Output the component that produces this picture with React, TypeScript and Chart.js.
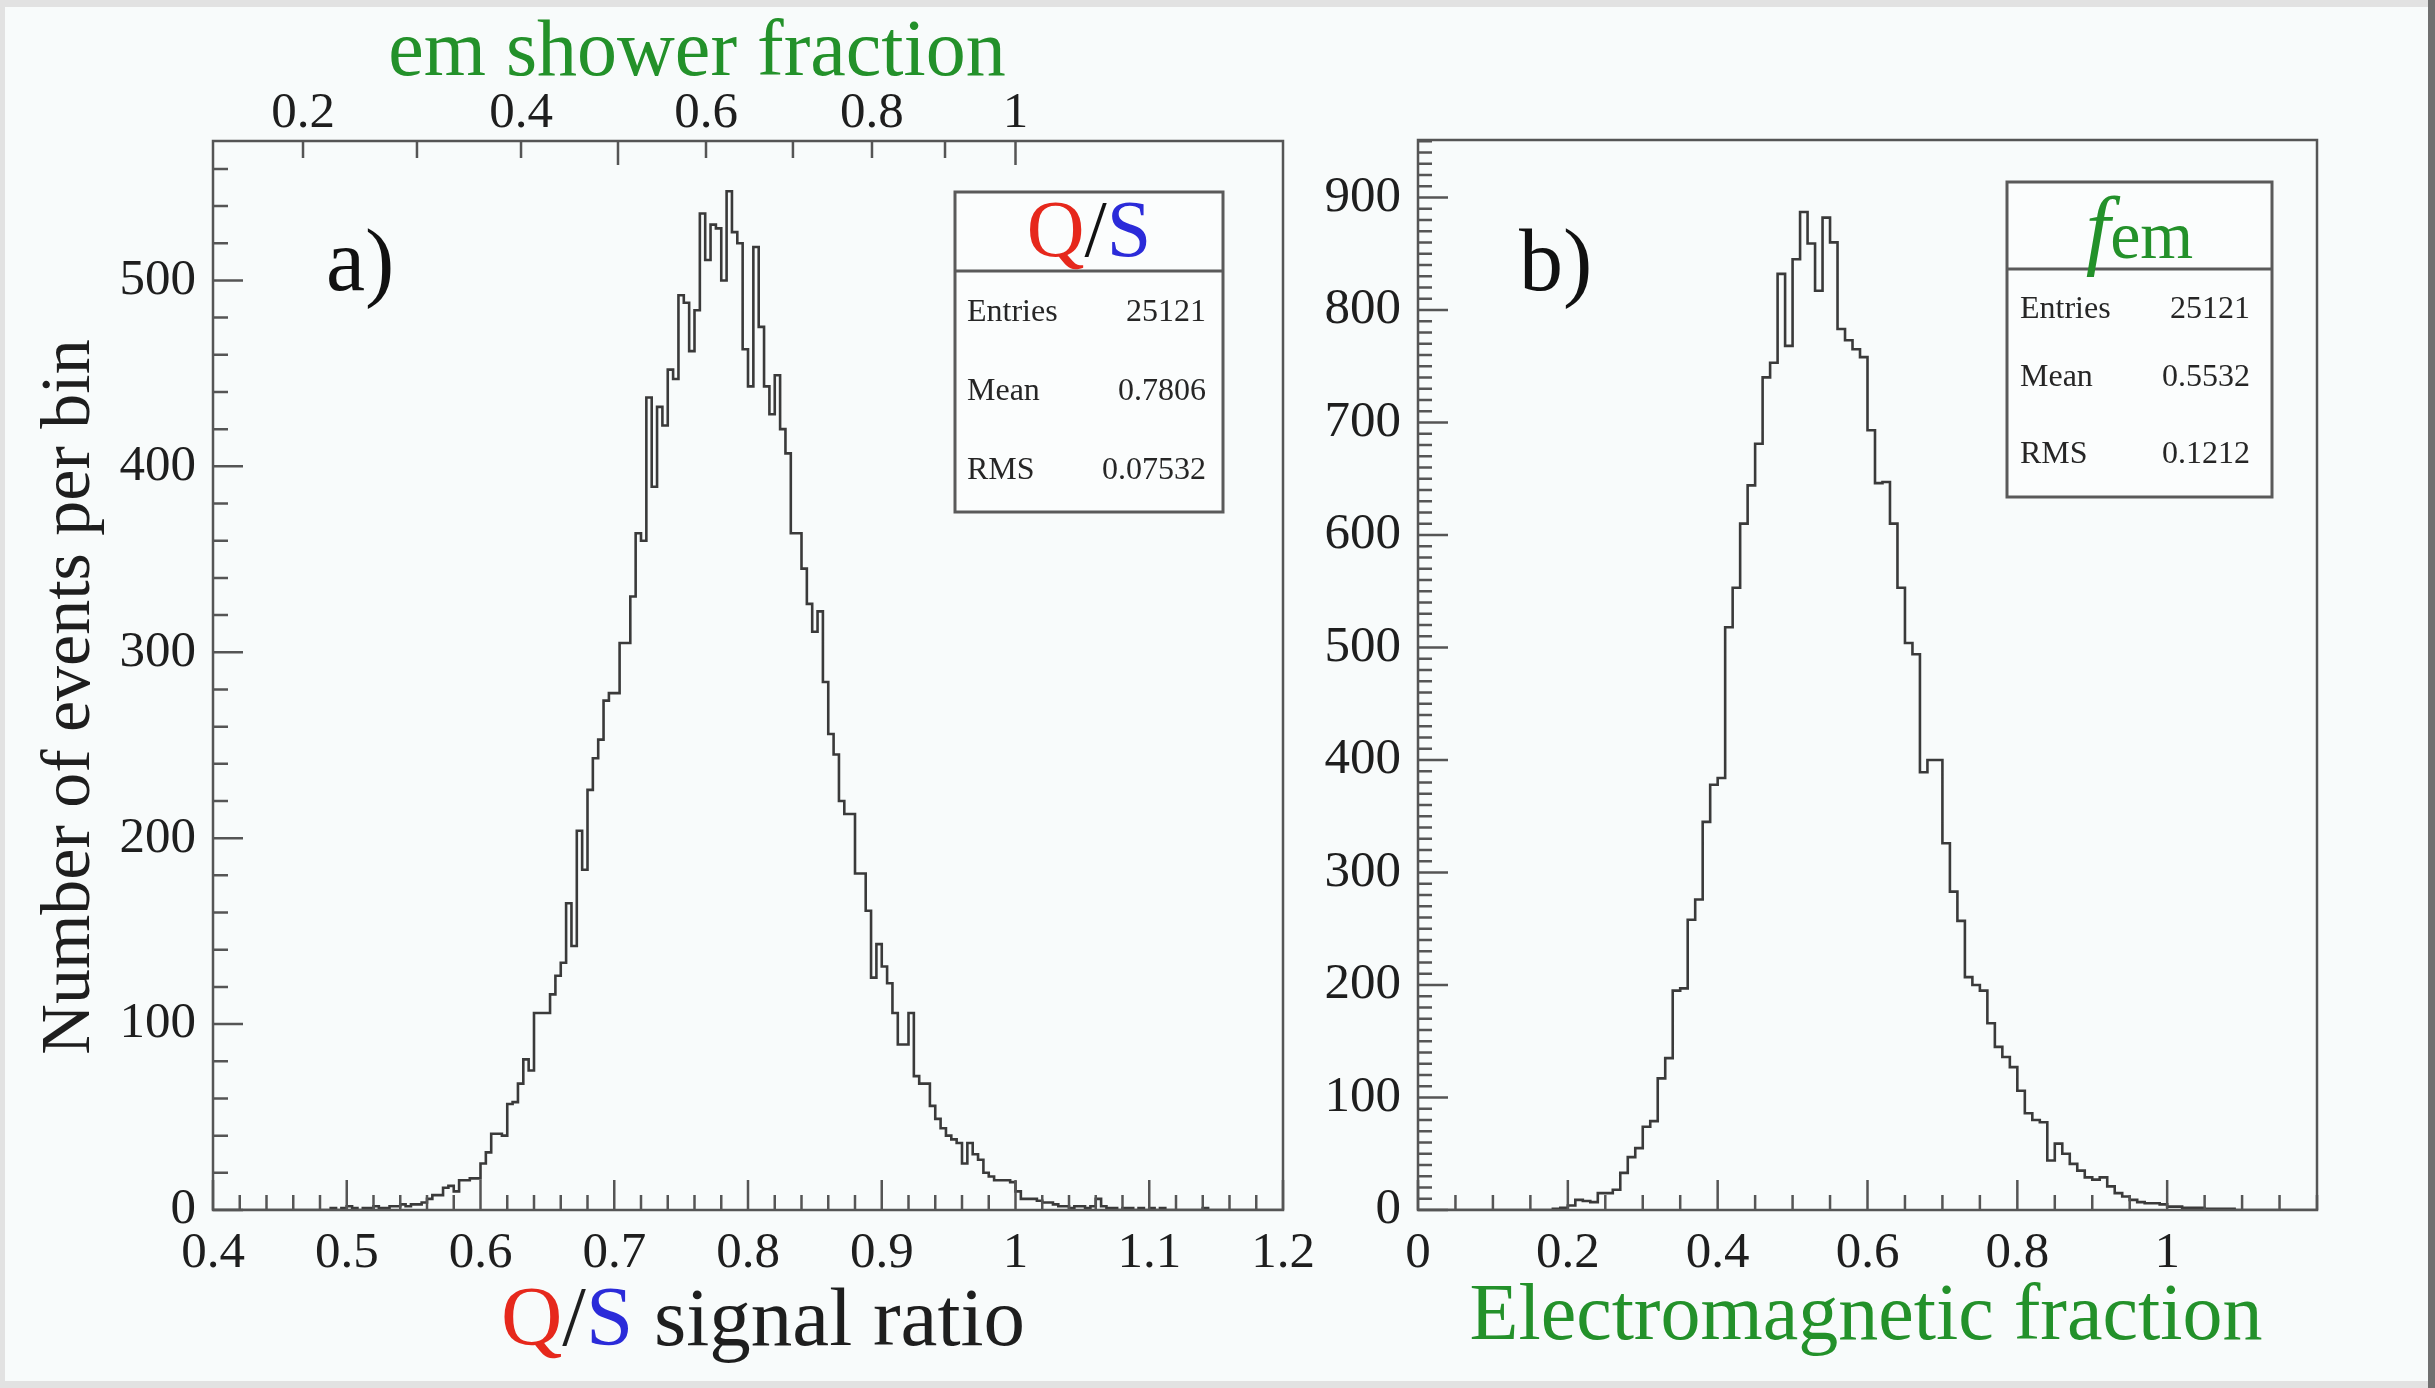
import { useEffect, useRef } from "react";
import { Chart, registerables } from "chart.js";

Chart.register(...registerables);

const PAGE_W = 2435;
const PAGE_H = 1388;
const SERIF = "'Liberation Serif', 'Times New Roman', serif";
const INK = "#1e1e1e";
const FRAME = "#555555";
const LINE = "#3a3a3a";
const GREEN = "#23912a";
const RED = "#e6281c";
const BLUE = "#2b2bd9";

// Panel a): Q/S signal ratio, 200 bins of width 0.004 on [0.4, 1.2]
const qsLow = 0.4;
const qsHigh = 1.2;
const qsBinWidth = 0.004;
const qsCounts = [
  0, 0, 0, 0, 0, 0, 0, 0, 0, 0,
  0, 0, 0, 0, 0, 0, 0, 0, 0, 0,
  0, 0, 1, 0, 1, 2, 1, 0, 1, 1,
  2, 1, 1, 2, 2, 3, 2, 3, 3, 4,
  6, 8, 8, 12, 13, 10, 16, 16, 17, 17,
  25, 31, 41, 41, 40, 57, 58, 68, 81, 75,
  106, 106, 106, 116, 126, 133, 165, 142, 204, 183,
  226, 243, 253, 274, 278, 278, 305, 305, 330, 364,
  360, 437, 389, 432, 422, 452, 447, 492, 488, 462,
  484, 536, 511, 530, 528, 500, 548, 526, 520, 463,
  443, 518, 475, 443, 428, 449, 420, 407, 364, 364,
  345, 326, 311, 322, 284, 256, 245, 220, 213, 213,
  181, 181, 161, 125, 143, 131, 122, 106, 89, 89,
  106, 72, 68, 68, 56, 49, 44, 40, 38, 36,
  25, 36, 30, 27, 20, 18, 16, 16, 16, 15,
  10, 6, 6, 6, 5, 4, 4, 3, 2, 2,
  1, 2, 2, 1, 2, 6, 2, 1, 1, 0,
  1, 1, 0, 1, 0, 1, 0, 1, 0, 0,
  0, 0, 0, 0, 0, 1, 0, 0, 0, 0,
  0, 0, 0, 0, 0, 0, 0, 0, 0, 0,
];

// Panel b): electromagnetic fraction, 120 bins of width 0.01 on [0, 1.2]
const femLow = 0;
const femHigh = 1.2;
const femBinWidth = 0.01;
const femCounts = [
  0, 0, 0, 0, 0, 0, 0, 0, 0, 0,
  0, 0, 0, 0, 0, 0, 0, 0, 1, 2,
  4, 9, 8, 7, 15, 15, 18, 33, 47, 55,
  74, 79, 117, 135, 195, 197, 258, 276, 345, 378,
  384, 518, 553, 610, 644, 681, 740, 753, 832, 768,
  845, 887, 859, 817, 882, 860, 783, 773, 765, 758,
  693, 646, 647, 610, 553, 504, 494, 389, 400, 400,
  326, 283, 257, 207, 200, 195, 166, 145, 136, 127,
  106, 86, 80, 78, 44, 59, 50, 41, 35, 29,
  27, 29, 21, 15, 12, 9, 7, 6, 6, 5,
  3, 3, 2, 2, 2, 1, 1, 1, 1, 0,
  0, 0, 0, 0, 0, 0, 0, 0, 0, 0,
];

// Axis tick labels
const qsXTicks = [0.4, 0.5, 0.6, 0.7, 0.8, 0.9, 1.0, 1.1, 1.2];
const qsYTicks = [0, 100, 200, 300, 400, 500];
const qsYMax = 575;
const femXTicks = [0, 0.2, 0.4, 0.6, 0.8, 1.0];
const femYTicks = [0, 100, 200, 300, 400, 500, 600, 700, 800, 900];
const femYMax = 951;

// em shower fraction scale along the top of panel a), placed at the matching Q/S values
const emFracLabels = ["0.2", "0.4", "0.6", "0.8", "1"];
const emFracLabelQS = [0.4673, 0.6303, 0.7686, 0.8927, 1.0];
const emFracMinorQS = [0.5525, 0.7028, 0.8336, 0.9473];

// Statistics boxes
const qsStats = [
  ["Entries", "25121"],
  ["Mean", "0.7806"],
  ["RMS", "0.07532"],
];
const femStats = [
  ["Entries", "25121"],
  ["Mean", "0.5532"],
  ["RMS", "0.1212"],
];

type Box = { x: number; y: number; w: number; h: number; divider: number; rows: number[]; textLeft: number; textRight: number };
type Run = { text: string; color: string; font: string };

function histPoints(low: number, width: number, counts: number[]) {
  const pts = counts.map((c, i) => ({ x: low + i * width, y: c }));
  pts.push({ x: low + counts.length * width, y: counts[counts.length - 1] });
  return pts;
}

function steps(from: number, to: number, step: number) {
  const out: number[] = [];
  for (let i = 0; from + i * step <= to + 1e-9; i++) out.push(+(from + i * step).toFixed(6));
  return out;
}

function fmt(v: number) {
  return String(+Number(v).toFixed(3));
}

function font(size: number, style = "") {
  return `${style} ${size}px ${SERIF}`.trim();
}

function drawRuns(ctx: CanvasRenderingContext2D, runs: Run[], cx: number, baseline: number) {
  ctx.textBaseline = "alphabetic";
  ctx.textAlign = "left";
  let total = 0;
  const widths = runs.map((r) => {
    ctx.font = r.font;
    const w = ctx.measureText(r.text).width;
    total += w;
    return w;
  });
  let x = cx - total / 2;
  runs.forEach((r, i) => {
    ctx.font = r.font;
    ctx.fillStyle = r.color;
    ctx.fillText(r.text, x, baseline);
    x += widths[i];
  });
}

function drawStats(ctx: CanvasRenderingContext2D, box: Box, title: Run[], titleBaseline: number, rows: string[][]) {
  ctx.save();
  ctx.fillStyle = "#fbfdfd";
  ctx.fillRect(box.x, box.y, box.w, box.h);
  ctx.strokeStyle = "#5a5a5a";
  ctx.lineWidth = 3;
  ctx.strokeRect(box.x, box.y, box.w, box.h);
  ctx.beginPath();
  ctx.moveTo(box.x, box.divider);
  ctx.lineTo(box.x + box.w, box.divider);
  ctx.stroke();
  drawRuns(ctx, title, box.x + box.w / 2, titleBaseline);
  ctx.font = font(32);
  ctx.fillStyle = "#262626";
  ctx.textBaseline = "middle";
  rows.forEach((r, i) => {
    ctx.textAlign = "left";
    ctx.fillText(r[0], box.textLeft, box.rows[i]);
    ctx.textAlign = "right";
    ctx.fillText(r[1], box.textRight, box.rows[i]);
  });
  ctx.restore();
}

type TickSet = { values: number[]; len: number };
type PanelSpec = {
  bottom: TickSet[];
  left: TickSet[];
  top?: TickSet[];
  decorate: (ctx: CanvasRenderingContext2D) => void;
};

function panelPlugin(id: string, spec: PanelSpec) {
  return {
    id,
    afterDatasetsDraw(chart: Chart) {
      const { ctx, chartArea: a } = chart;
      const sx = chart.scales.x;
      const sy = chart.scales.y;
      ctx.save();
      ctx.strokeStyle = FRAME;
      ctx.lineWidth = 2.5;
      ctx.beginPath();
      spec.bottom.forEach((t) =>
        t.values.forEach((v) => {
          const px = sx.getPixelForValue(v);
          ctx.moveTo(px, a.bottom);
          ctx.lineTo(px, a.bottom - t.len);
        })
      );
      spec.left.forEach((t) =>
        t.values.forEach((v) => {
          const py = sy.getPixelForValue(v);
          ctx.moveTo(a.left, py);
          ctx.lineTo(a.left + t.len, py);
        })
      );
      if (spec.top) {
        const st = chart.scales.xTop;
        spec.top.forEach((t) =>
          t.values.forEach((v) => {
            const px = st.getPixelForValue(v);
            ctx.moveTo(px, a.top);
            ctx.lineTo(px, a.top + t.len);
          })
        );
      }
      ctx.stroke();
      ctx.strokeRect(a.left, a.top, a.right - a.left, a.bottom - a.top);
      spec.decorate(ctx);
      ctx.restore();
    },
  };
}

const tickFont = { family: SERIF, size: 51 };

function fixedTicks(values: number[]) {
  return (s: any) => {
    s.ticks = values.map((value) => ({ value }));
  };
}

function leftConfig(): any {
  const plugin = panelPlugin("panelA", {
    bottom: [
      { values: steps(qsLow, qsHigh, 0.02), len: 15 },
      { values: qsXTicks, len: 30 },
    ],
    left: [
      { values: steps(0, qsYMax, 20), len: 15 },
      { values: qsYTicks, len: 30 },
    ],
    top: [
      { values: [...emFracLabelQS, ...emFracMinorQS], len: 17 },
      { values: [emFracMinorQS[1], emFracLabelQS[4]], len: 24 },
    ],
    decorate: (ctx) => {
      drawRuns(ctx, [{ text: "em shower fraction", color: GREEN, font: font(80) }], 697, 75);
      drawRuns(
        ctx,
        [
          { text: "Q", color: RED, font: font(85) },
          { text: "/", color: INK, font: font(85) },
          { text: "S", color: BLUE, font: font(85) },
          { text: " signal ratio", color: INK, font: font(83) },
        ],
        763,
        1345
      );
      ctx.save();
      ctx.translate(89, 697);
      ctx.rotate(-Math.PI / 2);
      ctx.font = font(70);
      ctx.fillStyle = INK;
      ctx.textAlign = "center";
      ctx.textBaseline = "alphabetic";
      ctx.fillText("Number of events per bin", 0, 0);
      ctx.restore();
      ctx.font = font(88);
      ctx.fillStyle = "#111111";
      ctx.textAlign = "left";
      ctx.textBaseline = "alphabetic";
      ctx.fillText("a)", 326, 290);
      drawStats(
        ctx,
        { x: 955, y: 192, w: 268, h: 320, divider: 271, rows: [313, 392, 471], textLeft: 967, textRight: 1206 },
        [
          { text: "Q", color: RED, font: font(80) },
          { text: "/", color: "#111111", font: font(80) },
          { text: "S", color: BLUE, font: font(80) },
        ],
        256,
        qsStats
      );
    },
  });

  return {
    type: "line",
    data: {
      datasets: [
        {
          data: histPoints(qsLow, qsBinWidth, qsCounts),
          stepped: true,
          borderColor: LINE,
          borderWidth: 2.6,
          pointRadius: 0,
          fill: false,
          xAxisID: "x",
          yAxisID: "y",
        },
      ],
    },
    options: {
      animation: false,
      responsive: false,
      devicePixelRatio: 1,
      events: [],
      layout: { padding: { left: 0, top: 0, right: PAGE_W - 1283, bottom: 0 } },
      plugins: { legend: { display: false }, tooltip: { enabled: false } },
      scales: {
        x: {
          type: "linear",
          position: "bottom",
          min: qsLow,
          max: qsHigh,
          afterBuildTicks: fixedTicks(qsXTicks),
          afterFit: (s: any) => {
            s.height = PAGE_H - 1210;
            s.paddingLeft = 0;
            s.paddingRight = 0;
          },
          grid: { display: false },
          border: { display: false },
          ticks: { autoSkip: false, maxRotation: 0, padding: 5, color: INK, font: tickFont, callback: (v: number) => fmt(v) },
        },
        xTop: {
          type: "linear",
          position: "top",
          min: qsLow,
          max: qsHigh,
          afterBuildTicks: fixedTicks(emFracLabelQS),
          afterFit: (s: any) => {
            s.height = 141;
            s.paddingLeft = 0;
            s.paddingRight = 0;
          },
          grid: { display: false },
          border: { display: false },
          ticks: { autoSkip: false, maxRotation: 0, padding: -11, color: INK, font: tickFont, callback: (_v: number, i: number) => emFracLabels[i] },
        },
        y: {
          type: "linear",
          position: "left",
          min: 0,
          max: qsYMax,
          afterBuildTicks: fixedTicks(qsYTicks),
          afterFit: (s: any) => {
            s.width = 213;
            s.paddingTop = 0;
            s.paddingBottom = 0;
          },
          grid: { display: false },
          border: { display: false },
          ticks: { padding: 9, color: INK, font: tickFont, callback: (v: number) => fmt(v) },
        },
      },
    },
    plugins: [plugin],
  };
}

function rightConfig(): any {
  const plugin = panelPlugin("panelB", {
    bottom: [
      { values: steps(femLow, femHigh, 0.05), len: 15 },
      { values: femXTicks, len: 30 },
    ],
    left: [
      { values: steps(0, femYMax, 10), len: 14 },
      { values: femYTicks, len: 30 },
    ],
    decorate: (ctx) => {
      drawRuns(ctx, [{ text: "Electromagnetic fraction", color: GREEN, font: font(80) }], 1866, 1339);
      ctx.font = font(88);
      ctx.fillStyle = "#111111";
      ctx.textAlign = "left";
      ctx.textBaseline = "alphabetic";
      ctx.fillText("b)", 1519, 290);
      drawStats(
        ctx,
        { x: 2007, y: 182, w: 265, h: 315, divider: 269, rows: [310, 378, 455], textLeft: 2020, textRight: 2250 },
        [
          { text: "f", color: GREEN, font: font(88, "italic") },
          { text: "em", color: GREEN, font: font(68) },
        ],
        258,
        femStats
      );
    },
  });

  return {
    type: "line",
    data: {
      datasets: [
        {
          data: histPoints(femLow, femBinWidth, femCounts),
          stepped: true,
          borderColor: LINE,
          borderWidth: 2.6,
          pointRadius: 0,
          fill: false,
          xAxisID: "x",
          yAxisID: "y",
        },
      ],
    },
    options: {
      animation: false,
      responsive: false,
      devicePixelRatio: 1,
      events: [],
      layout: { padding: { left: 0, top: 140, right: PAGE_W - 2317, bottom: 0 } },
      plugins: { legend: { display: false }, tooltip: { enabled: false } },
      scales: {
        x: {
          type: "linear",
          position: "bottom",
          min: femLow,
          max: femHigh,
          afterBuildTicks: fixedTicks(femXTicks),
          afterFit: (s: any) => {
            s.height = PAGE_H - 1210;
            s.paddingLeft = 0;
            s.paddingRight = 0;
          },
          grid: { display: false },
          border: { display: false },
          ticks: { autoSkip: false, maxRotation: 0, padding: 5, color: INK, font: tickFont, callback: (v: number) => fmt(v) },
        },
        y: {
          type: "linear",
          position: "left",
          min: 0,
          max: femYMax,
          afterBuildTicks: fixedTicks(femYTicks),
          afterFit: (s: any) => {
            s.width = 1418;
            s.paddingTop = 0;
            s.paddingBottom = 0;
          },
          grid: { display: false },
          border: { display: false },
          ticks: { padding: 9, color: INK, font: tickFont, callback: (v: number) => fmt(v) },
        },
      },
    },
    plugins: [plugin],
  };
}

export default function App() {
  const leftRef = useRef<HTMLCanvasElement>(null);
  const rightRef = useRef<HTMLCanvasElement>(null);

  useEffect(() => {
    const a = new Chart(leftRef.current as HTMLCanvasElement, leftConfig());
    const b = new Chart(rightRef.current as HTMLCanvasElement, rightConfig());
    return () => {
      a.destroy();
      b.destroy();
    };
  }, []);

  const canvasStyle: any = { position: "absolute", left: 0, top: 0, width: PAGE_W, height: PAGE_H };

  return (
    <div style={{ position: "fixed", left: 0, top: 0, width: PAGE_W, height: PAGE_H, background: "#e2e2e2", overflow: "hidden" }}>
      <div style={{ position: "absolute", left: 5, top: 7, width: 2423, height: 1374, background: "#f8fbfb" }} />
      <div style={{ position: "absolute", left: 2428, top: 0, width: 7, height: PAGE_H, background: "#707070" }} />
      <canvas ref={leftRef} width={PAGE_W} height={PAGE_H} style={canvasStyle} />
      <canvas ref={rightRef} width={PAGE_W} height={PAGE_H} style={canvasStyle} />
    </div>
  );
}
